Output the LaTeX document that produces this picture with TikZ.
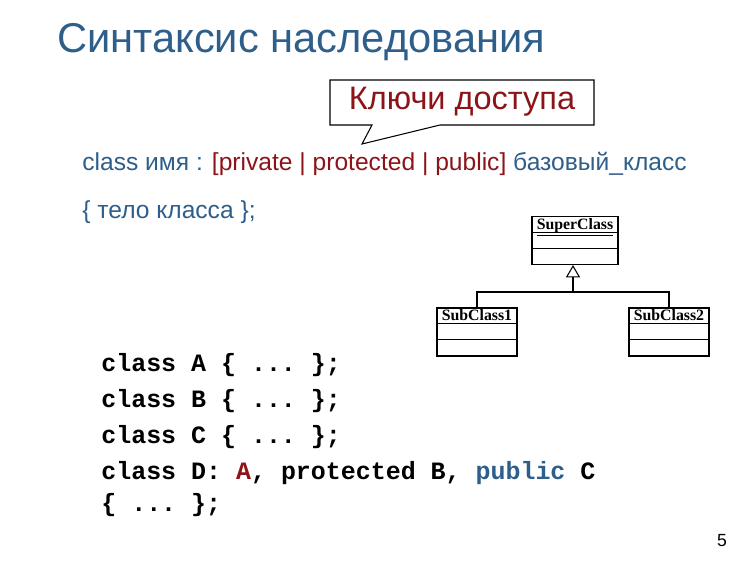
\documentclass[tikz,border=0pt]{standalone}
\usepackage{fontspec}
\setmainfont{Liberation Sans}
\setmonofont{Liberation Mono}
\newfontfamily\umlfont{Liberation Serif}
\usetikzlibrary{arrows.meta,positioning,calc}
\definecolor{slideblue}{RGB}{46,94,138}
\definecolor{keyred}{RGB}{140,20,25}
\tikzset{
    umlbox/.style={draw, line width=0.6pt, minimum width=1.6cm, minimum height=0.96cm},
    umltext/.style={font=\umlfont\bfseries\fontsize{9}{10}\selectfont, anchor=north, inner sep=1pt},
    codeline/.style={anchor=west, font=\ttfamily\bfseries\fontsize{14.2}{16}\selectfont, inner sep=0pt}
}
\begin{document}
\begin{tikzpicture}[x=0.02cm, y=-0.02cm]
        \useasboundingbox (0,0) rectangle (750,561);

        % Title
        \node[anchor=west, slideblue, font=\fontsize{23.7}{28}\selectfont, inner sep=0pt] (title) at (57,42) {Синтаксис наследования};

        % Callout
        \draw[line width=0.6pt, fill=white] (330,80) -- (594,80) -- (594,125) -- (440,125)
            -- (362,144) -- (372,125) -- (330,125) -- cycle;
        \node[keyred, font=\fontsize{18.5}{20}\selectfont] (keys) at (462,102) {Ключи доступа};

        % Syntax
        \node[anchor=west, slideblue, font=\fontsize{14}{16}\selectfont, inner sep=0pt] (syntax) at (82,164)
            {class имя : \textcolor{keyred}{[private | protected | public]} базовый\_класс};
        \node[anchor=west, slideblue, font=\fontsize{14}{16}\selectfont, inner sep=0pt] (body) at (82,212)
            {\{ тело класса \};};

        % UML
        \node[umlbox, minimum width=1.72cm] (super) at (575,240.5) {};
        \node[umlbox] (sub1) at (477,332) {};
        \node[umlbox] (sub2) at (669,332) {};
        \foreach \n in {super, sub1, sub2} {
            \draw[line width=0.5pt] ($(\n.north west)!0.33!(\n.south west)$) -- ($(\n.north east)!0.33!(\n.south east)$);
            \draw[line width=0.5pt] ($(\n.north west)!0.66!(\n.south west)$) -- ($(\n.north east)!0.66!(\n.south east)$);
        }
        \node[umltext] at (super.north) {\underline{SuperClass}};
        \node[umltext] at (sub1.north) {\underline{SubClass1}};
        \node[umltext] at (sub2.north) {\underline{SubClass2}};
        \coordinate (joint) at (573,292);
        \draw[line width=0.6pt] (sub1.north) |- (joint) -| (sub2.north);
        \draw[line width=0.6pt, -{Triangle[open, width=8pt, length=7pt]}] (joint) -- (joint |- super.south);

        % Code
        \node[codeline] (ca) at (101,365) {class A \{ ... \};};
        \node[codeline] (cb) at (101,401) {class B \{ ... \};};
        \node[codeline] (cc) at (101,437) {class C \{ ... \};};
        \node[codeline] (cd) at (101,473) {class D: \textcolor{keyred}{A}, protected B, \textcolor{slideblue}{public} C};
        \node[codeline] (ce) at (101,505) {\{ ... \};};

        \node[font=\fontsize{10}{12}\selectfont] (page) at (722,541) {5};
    \end{tikzpicture}
\end{document}
